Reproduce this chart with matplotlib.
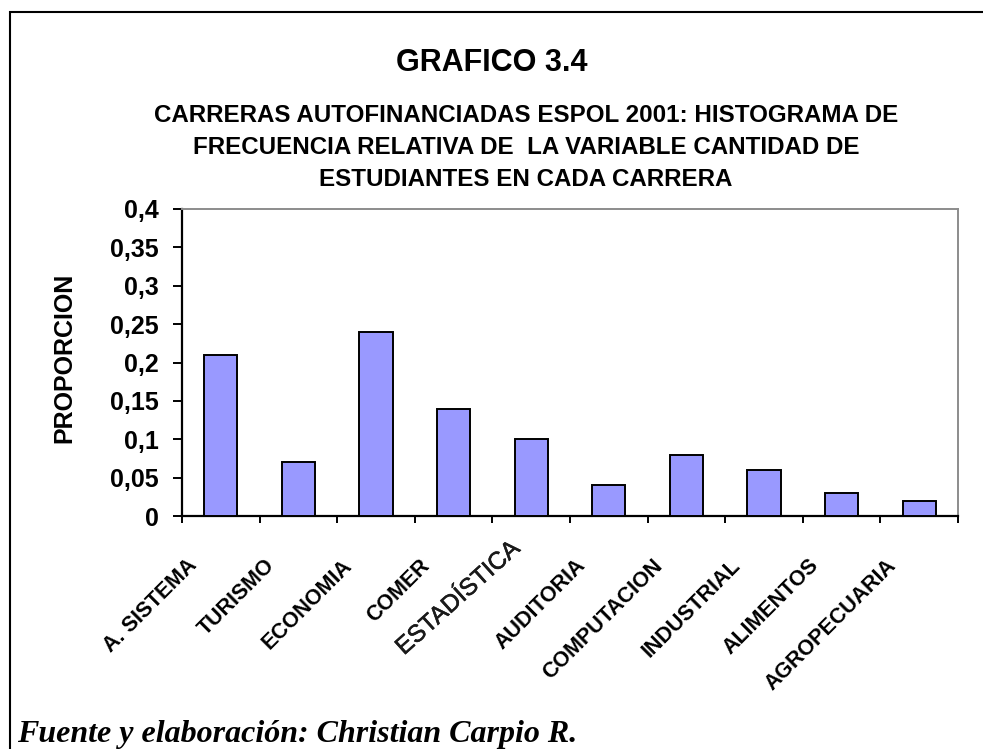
import numpy as np
import matplotlib
matplotlib.use("Agg")
import matplotlib.pyplot as plt
import matplotlib.transforms as mtransforms
import matplotlib.patheffects as pe
from matplotlib.patches import Rectangle
from matplotlib.ticker import FuncFormatter, FixedLocator

plt.rcParams["font.family"] = ["Liberation Sans", "DejaVu Sans"]

carreras = ["A. SISTEMA", "TURISMO", "ECONOMIA", "COMER", "ESTADÍSTICA",
            "AUDITORIA", "COMPUTACION", "INDUSTRIAL", "ALIMENTOS", "AGROPECUARIA"]
proporcion = [0.21, 0.07, 0.24, 0.14, 0.10, 0.04, 0.08, 0.06, 0.03, 0.02]
yticks = [0, 0.05, 0.1, 0.15, 0.2, 0.25, 0.3, 0.35, 0.4]

titulo = "GRAFICO 3.4"
subtitulo = ["CARRERAS AUTOFINANCIADAS ESPOL 2001: HISTOGRAMA DE",
             "FRECUENCIA RELATIVA DE  LA VARIABLE CANTIDAD DE",
             "ESTUDIANTES EN CADA CARRERA"]
fuente = "Fuente y elaboración: Christian Carpio R."

W, H = 983, 749
fig = plt.figure(figsize=(W / 100, H / 100), dpi=100)

# outer frame (only top and left edges visible in the crop)
fig.patches.append(Rectangle((10 / W, -0.2), 1.5, 1 - 12 / H + 0.2,
                             transform=fig.transFigure, fill=False,
                             edgecolor="black", linewidth=1.5))

ax = fig.add_axes([182 / W, 1 - 516 / H, 776 / W, 307 / H])
x = np.arange(len(carreras))
ax.bar(x, proporcion, width=0.43, color="#9999FF", edgecolor="black",
       linewidth=1.4, zorder=3)

ax.set_xlim(-0.5, len(carreras) - 0.5)
ax.set_ylim(0, 0.4)
ax.set_yticks(yticks)
ax.yaxis.set_major_formatter(FuncFormatter(lambda v, p: f"{v:g}".replace(".", ",")))
ax.tick_params(axis="y", direction="out", length=6.5, width=1.4, pad=10.5,
               labelsize=18)
for t in ax.get_yticklabels():
    t.set_fontweight("bold")

# ticks between categories, labels at the centres
ax.xaxis.set_major_locator(FixedLocator(np.arange(-0.5, len(carreras), 1)))
ax.xaxis.set_major_formatter(FuncFormatter(lambda v, p: ""))
ax.tick_params(axis="x", which="major", direction="out", length=5, width=1.4)
ax.set_xticks(x, minor=True)
ax.set_xticklabels(carreras, minor=True, rotation=45, ha="right", va="top",
                   rotation_mode="anchor", fontsize=15.5, fontweight="bold")
ax.tick_params(axis="x", which="minor", length=0, pad=0)

for i, t in enumerate(ax.xaxis.get_minorticklabels()):
    if carreras[i] == "ESTADÍSTICA":
        # this label was pasted in with another font in the original
        dx, dy = -22, -22
        t.set_fontweight("normal")
        t.set_fontsize(17.5)
        t.set_color("#1a1a1a")
        t.set_rotation(42)
        t.set_path_effects([pe.withStroke(linewidth=0.4, foreground="#1a1a1a")])
    else:
        dx, dy = -34, -39
    t.set_transform(t.get_transform() +
                    mtransforms.ScaledTranslation(dx / 100, dy / 100, fig.dpi_scale_trans))

for side in ["top", "right"]:
    ax.spines[side].set_color("#8c8c8c")
    ax.spines[side].set_linewidth(1.4)
for side in ["left", "bottom"]:
    ax.spines[side].set_color("black")
    ax.spines[side].set_linewidth(1.6)

ax.set_ylabel("PROPORCION", fontsize=18, fontweight="bold", va="center")
ax.yaxis.set_label_coords((64 - 182) / 776, (516 - 358) / 307)

fig.text(492 / W, 1 - 63 / H, titulo, ha="center", va="center",
         fontsize=22, fontweight="bold")
for k, line in enumerate(subtitulo):
    fig.text(526 / W, 1 - (116 + 31.5 * k) / H, line, ha="center", va="center",
             fontsize=17.4, fontweight="bold")

fig.text(17 / W, 1 - 742 / H, fuente, ha="left", va="baseline",
         fontsize=23, fontweight="bold", fontstyle="italic",
         family=["Liberation Serif", "DejaVu Serif"])

fig.savefig("out.png", dpi=100)
